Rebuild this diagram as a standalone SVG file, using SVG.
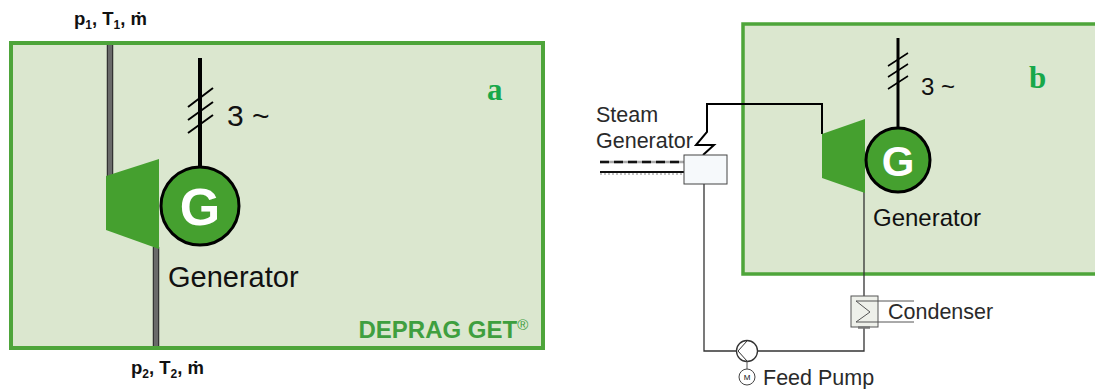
<svg xmlns="http://www.w3.org/2000/svg" width="1095" height="389" viewBox="0 0 1095 389">
<style>
text{font-family:"Liberation Sans",Arial,sans-serif;fill:#111}
.panel{fill:#dbe7cf;stroke:#4ea53a}
.turb{fill:#45a02f}
.gen{fill:#45a02f;stroke:#000;stroke-width:3}
.g{fill:#fff;font-weight:700;text-anchor:middle}
.thick{stroke:#000;fill:none}
.pipe{stroke:#333;stroke-width:6.500;fill:none}
.pipe2{stroke:#6a6a6a;stroke-width:4;fill:none}
.thin{stroke:#333;stroke-width:1.300;fill:none}
.lbl{font-weight:700;font-size:18.500px}
.sub{font-size:12px}
.id{font-family:"Liberation Serif",serif;font-weight:700;font-size:31px;fill:#17a84a}
.gray{font-size:21.500px;fill:#2a2a2a}
</style>
<g id="panel-a">
<rect class="panel" x="11" y="43" width="532" height="305" stroke-width="4"/>
<text class="id" x="487" y="100">a</text>
<text x="358.500" y="338" font-size="24" font-weight="700" style="fill:#3f9f3f">DEPRAG GET<tspan font-size="15" dy="-8" font-weight="400">®</tspan></text>
</g>
<g id="panel-b">
<rect class="panel" x="743" y="24" width="354" height="250" stroke-width="3.500"/>
<text class="id" x="1029" y="88">b</text>
</g>
<g id="connectors">
<path class="pipe" d="M110 45V178"/>
<path class="pipe2" d="M110 45V178"/>
<path class="pipe" d="M156 247V346"/>
<path class="pipe2" d="M156 247V346"/>
<path class="thick" stroke-width="4" d="M200 58V168"/>
<path class="thick" stroke-width="2" d="M188 107L213 88M188 120L213 102M188 133L213 115"/>
<path class="thin" d="M704 184V351H737M757 351H864V327M864 296V190"/>
<path class="thick" stroke-width="2" d="M822 134V104H707V132L696 145H714L703 155"/>
<path class="thick" stroke-width="3" d="M898 38V128"/>
<path class="thick" stroke-width="1.500" d="M888 66L908 53M888 77L908 64M888 89L908 76"/>
<path d="M600 162H684" stroke="#aaa" stroke-width="2.500"/>
<path d="M600 162H684" stroke="#111" stroke-width="2.500" stroke-dasharray="9 5"/>
<path d="M600 172H684" stroke="#111" stroke-width="2"/>
<path d="M600 174H684" stroke="#888" stroke-width="1" stroke-dasharray="2 2"/>
</g>
<g id="turbine-a"><polygon class="turb" points="106,176 159,159 159,249 106,230"/></g>
<g id="generator-a">
<circle class="gen" cx="200" cy="206" r="39"/>
<text class="g" x="200" y="225" font-size="52">G</text>
<text x="168" y="287" font-size="29">Generator</text>
<text x="227" y="126" font-size="30">3 ~</text>
</g>
<g id="inlet-label"><text class="lbl" x="74" y="25">p<tspan class="sub" dy="4">1</tspan><tspan dy="-4">, T</tspan><tspan class="sub" dy="4">1</tspan><tspan dy="-4">, ṁ</tspan></text></g>
<g id="outlet-label"><text class="lbl" x="131" y="374">p<tspan class="sub" dy="4">2</tspan><tspan dy="-4">, T</tspan><tspan class="sub" dy="4">2</tspan><tspan dy="-4">, ṁ</tspan></text></g>
<g id="turbine-b"><polygon class="turb" points="822,134 865,119 865,193 822,178"/></g>
<g id="generator-b">
<circle class="gen" cx="898" cy="160" r="32"/>
<text class="g" x="898" y="176" font-size="42">G</text>
<text x="873" y="226" font-size="24">Generator</text>
<text x="921" y="95" font-size="24">3 ~</text>
</g>
<g id="steam-generator">
<rect x="684" y="155" width="43" height="29" fill="#f6f9fb" stroke="#444" stroke-width="1"/>
<text class="gray" x="596" y="122">Steam</text>
<text class="gray" x="596" y="148">Generator</text>
</g>
<g id="condenser">
<rect x="851" y="296" width="27" height="31" fill="#eef0ea" stroke="#555" stroke-width="1"/>
<path d="M858 327.500H870" stroke="#777" stroke-width="2.500"/>
<path d="M914 301H856L870 312L856 322H914" fill="none" stroke="#555" stroke-width="1"/>
<text class="gray" x="888" y="319">Condenser</text>
</g>
<g id="feed-pump">
<circle cx="747" cy="351" r="10.500" fill="#fff" stroke="#333" stroke-width="1.300"/>
<path d="M747 341L738 351L747 361" fill="none" stroke="#333" stroke-width="1"/>
<path d="M747 361V369" stroke="#555" stroke-width="1"/>
<circle cx="747" cy="377" r="8" fill="#fff" stroke="#444" stroke-width="1"/>
<text x="747" y="380" font-size="8" text-anchor="middle">M</text>
<text class="gray" x="763" y="385">Feed Pump</text>
</g>
</svg>
